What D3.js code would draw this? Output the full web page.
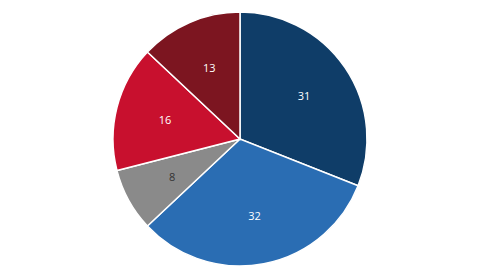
<!DOCTYPE html>
<html><head><meta charset="utf-8">
<script src="https://cdn.jsdelivr.net/npm/d3@7"></script>
<style>html,body{margin:0;padding:0;background:#fff;}svg{display:block;}</style>
</head><body>
<svg id="chart" width="480" height="270"></svg>
<script>
const categories = ["A", "B", "C", "D", "E"];
const values = [31, 32, 8, 16, 13];
const colors = ["#0f3d68", "#2a6db3", "#8a8a8a", "#c8102e", "#7c1520"];
const labelColors = ["#ffffff", "#ffffff", "#333333", "#ffffff", "#ffffff"];

const svg = d3.select("#chart");
const cx = 240, cy = 139, R = 127;
const g = svg.append("g").attr("transform", `translate(${cx},${cy})`);
const pie = d3.pie().sort(null).value(d => d.v);
const data = pie(values.map((v, i) => ({v, i, c: categories[i]})));
const arc = d3.arc().innerRadius(0).outerRadius(R);
const labelArc = d3.arc().innerRadius(R * 0.61).outerRadius(R * 0.61);

g.selectAll("path").data(data).join("path")
  .attr("d", arc)
  .attr("fill", d => colors[d.data.i])
  .attr("stroke", "#ffffff")
  .attr("stroke-width", 1.5);

g.selectAll("text").data(data).join("text")
  .attr("transform", d => `translate(${labelArc.centroid(d)})`)
  .attr("text-anchor", "middle")
  .attr("dominant-baseline", "central")
  .attr("font-family", "Open Sans, sans-serif")
  .attr("font-size", 11)
  .attr("fill", d => labelColors[d.data.i])
  .text(d => d.data.v);
</script>
</body></html>
